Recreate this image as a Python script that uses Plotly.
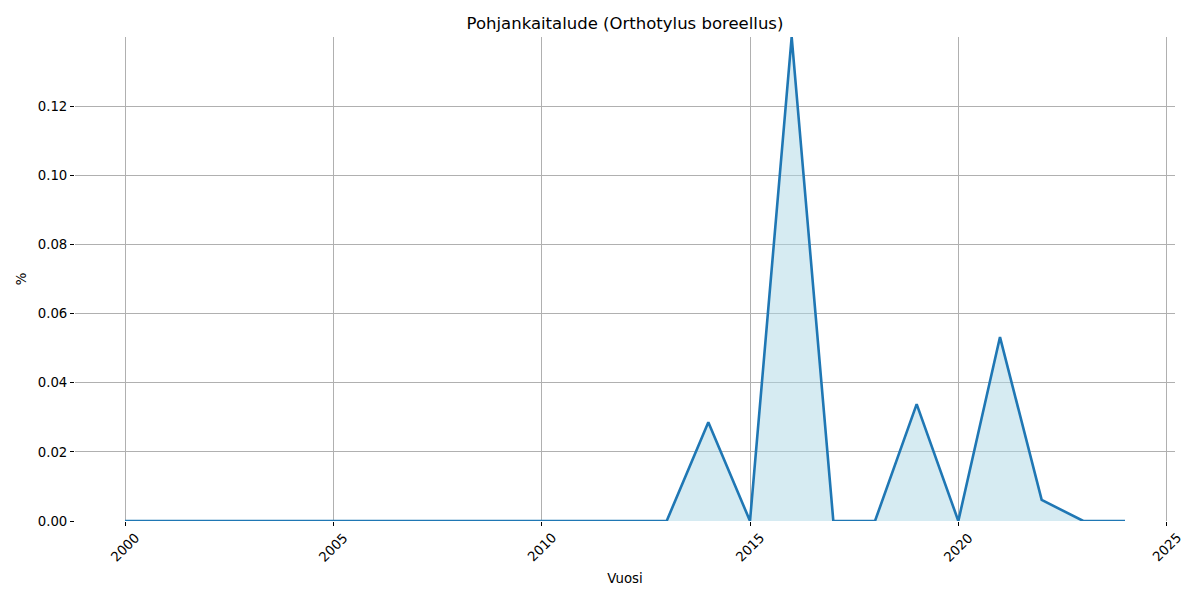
import plotly.graph_objects as go

years = list(range(2000, 2025))
values = [0, 0, 0, 0, 0, 0, 0, 0, 0, 0, 0, 0, 0, 0,
          0.0286, 0, 0.14, 0, 0, 0.0338, 0, 0.0532, 0.0061, 0, 0]
x_ticks = [2000, 2005, 2010, 2015, 2020, 2025]
y_ticks = [0, 0.02, 0.04, 0.06, 0.08, 0.10, 0.12]

fig = go.Figure()
fig.add_trace(go.Scatter(
    x=years, y=values, mode="lines",
    line=dict(color="#1f77b4", width=2.6),
    fill="tozeroy", fillcolor="rgba(173,216,230,0.5)",
    showlegend=False, hoverinfo="x+y",
))

font = "DejaVu Sans, Arial, sans-serif"

# rotated x tick labels centred under each tick (matplotlib style)
for t in x_ticks:
    fig.add_annotation(
        x=t, xref="x", y=0, yref="paper", text=str(t), showarrow=False,
        textangle=-45, xanchor="center", yanchor="top", yshift=-6,
        font=dict(size=13.3, family=font, color="black"),
    )

fig.update_layout(
    width=1200, height=600,
    paper_bgcolor="white", plot_bgcolor="white",
    margin=dict(l=67, r=33, t=29, b=87, autoexpand=False),
    font=dict(family=font, size=13, color="black"),
    title=dict(text="Pohjankaitalude (Orthotylus boreellus)", x=(67 + 1167) / 2 / 1200,
               xanchor="center", y=1 - 15 / 600, yanchor="middle",
               font=dict(size=16.5, family=font)),
    xaxis=dict(
        range=[1998.8, 2025.2], tickvals=x_ticks, showticklabels=False,
        showgrid=True, gridcolor="#b0b0b0", gridwidth=1,
        ticks="outside", ticklen=4, tickcolor="black", zeroline=False,
        showline=False, automargin=False,
        title=dict(text="Vuosi", font=dict(size=13.3), standoff=48),
    ),
    yaxis=dict(
        range=[0, 0.14], tickvals=y_ticks, tickformat=".2f",
        showgrid=True, gridcolor="#b0b0b0", gridwidth=1,
        ticks="outside", ticklen=4, tickcolor="black", zeroline=False,
        showline=False, automargin=False,
        title=dict(text="%", font=dict(size=13.3), standoff=8),
        tickfont=dict(size=13.3),
    ),
)

fig.write_html("out.html")
